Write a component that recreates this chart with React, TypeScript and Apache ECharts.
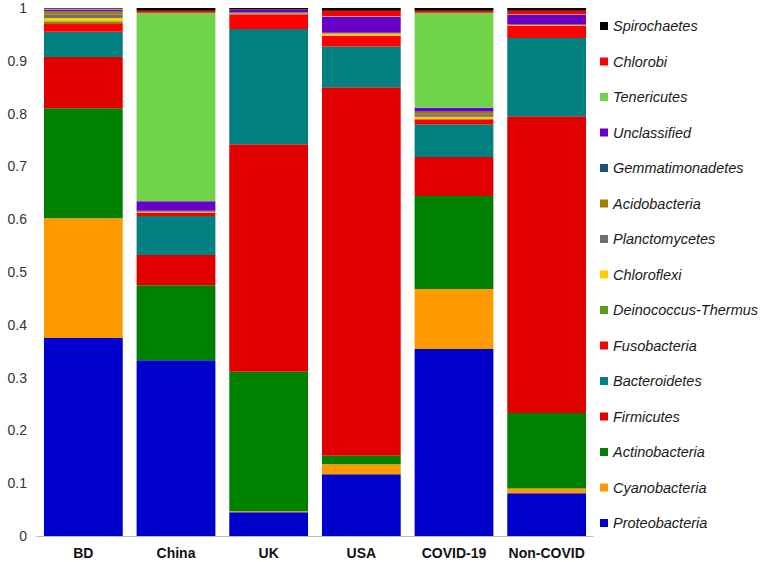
import React, { useEffect, useRef } from "react";
import * as echarts from "echarts";

const categories = ["BD", "China", "UK", "USA", "COVID-19", "Non-COVID"];

// bottom -> top stacking order
const phyla = [
  "Proteobacteria",
  "Cyanobacteria",
  "Actinobacteria",
  "Firmicutes",
  "Bacteroidetes",
  "Fusobacteria",
  "Deinococcus-Thermus",
  "Chloroflexi",
  "Planctomycetes",
  "Acidobacteria",
  "Gemmatimonadetes",
  "Unclassified",
  "Tenericutes",
  "Chlorobi",
  "Spirochaetes",
];

const colors = [
  "#0000CC",
  "#FF9900",
  "#008000",
  "#E00000",
  "#008080",
  "#FF0000",
  "#5A9E1A",
  "#FFCC00",
  "#6E6E6E",
  "#A67C00",
  "#1F4E79",
  "#6A00C8",
  "#70D44B",
  "#FF0000",
  "#000000",
];

// values per category: BD, China, UK, USA, COVID-19, Non-COVID
const Proteobacteria = [0.375, 0.333, 0.045, 0.117, 0.354, 0.081];
const Cyanobacteria = [0.227, 0.0, 0.002, 0.019, 0.114, 0.009];
const Actinobacteria = [0.208, 0.142, 0.264, 0.016, 0.176, 0.143];
const Firmicutes = [0.097, 0.057, 0.431, 0.698, 0.074, 0.562];
const Bacteroidetes = [0.048, 0.074, 0.218, 0.077, 0.062, 0.148];
const Fusobacteria = [0.016, 0.006, 0.028, 0.02, 0.009, 0.024];
const DeinococcusThermus = [0.004, 0.0, 0.0, 0.0, 0.001, 0.0];
const Chloroflexi = [0.006, 0.001, 0.001, 0.004, 0.004, 0.001];
const Planctomycetes = [0.006, 0.001, 0.001, 0.001, 0.005, 0.001];
const Acidobacteria = [0.006, 0.001, 0.001, 0.001, 0.004, 0.0];
const Gemmatimonadetes = [0.001, 0.001, 0.001, 0.0, 0.001, 0.0];
const Unclassified = [0.003, 0.018, 0.004, 0.031, 0.007, 0.018];
const Tenericutes = [0.001, 0.357, 0.0, 0.001, 0.18, 0.001];
const Chlorobi = [0.001, 0.004, 0.001, 0.01, 0.004, 0.007];
const Spirochaetes = [0.001, 0.005, 0.003, 0.005, 0.005, 0.005];

const seriesValues = [
  Proteobacteria,
  Cyanobacteria,
  Actinobacteria,
  Firmicutes,
  Bacteroidetes,
  Fusobacteria,
  DeinococcusThermus,
  Chloroflexi,
  Planctomycetes,
  Acidobacteria,
  Gemmatimonadetes,
  Unclassified,
  Tenericutes,
  Chlorobi,
  Spirochaetes,
];

const yTicks = [0, 0.1, 0.2, 0.3, 0.4, 0.5, 0.6, 0.7, 0.8, 0.9, 1];

export default function App() {
  const ref = useRef<HTMLDivElement>(null);

  useEffect(() => {
    if (!ref.current) return;
    const chart = echarts.init(ref.current, null, { renderer: "svg" });
    chart.setOption({
      animation: false,
      backgroundColor: "#ffffff",
      grid: { left: 37, right: 177, top: 8, bottom: 26 },
      legend: {
        orient: "vertical",
        left: 595,
        top: 13,
        itemWidth: 8,
        itemHeight: 8,
        itemGap: 19.5,
        icon: "rect",
        data: [...phyla].reverse(),
        textStyle: {
          fontFamily: "Liberation Sans, Arial, sans-serif",
          fontStyle: "italic",
          fontSize: 14.5,
          lineHeight: 16,
          color: "#1a1a1a",
        },
      },
      xAxis: {
        type: "category",
        data: categories,
        axisLine: { show: true, lineStyle: { color: "#bfbfbf", width: 1 } },
        axisTick: { show: false },
        axisLabel: {
          interval: 0,
          margin: 10,
          fontFamily: "Liberation Sans, Arial, sans-serif",
          fontWeight: "bold",
          fontSize: 14,
          color: "#111",
        },
      },
      yAxis: {
        type: "value",
        min: yTicks[0],
        max: yTicks[yTicks.length - 1],
        interval: 0.1,
        splitLine: { show: false },
        axisLine: { show: false },
        axisTick: { show: false },
        axisLabel: {
          margin: 10,
          fontFamily: "Liberation Sans, Arial, sans-serif",
          fontSize: 14,
          color: "#333",
        },
      },
      series: phyla.map((name, i) => ({
        name,
        type: "bar",
        stack: "total",
        barCategoryGap: "15%",
        itemStyle: { color: colors[i] },
        data: seriesValues[i],
      })),
    });
    return () => chart.dispose();
  }, []);

  return (
    <div
      ref={ref}
      style={{ position: "fixed", left: 0, top: 0, width: 770, height: 562 }}
    />
  );
}
